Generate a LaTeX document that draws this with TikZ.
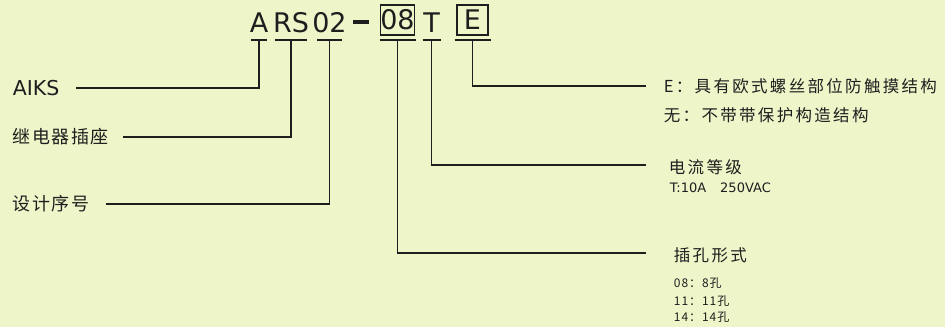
\documentclass[tikz,border=0pt]{standalone}
\usepackage{fontspec}
\setmainfont{DejaVu Sans}
\newfontfamily\cjk[LetterSpace=8]{Noto Sans CJK SC}
\newfontfamily\cjkwide[LetterSpace=14]{Noto Sans CJK SC}
\definecolor{paper}{HTML}{EEF5C9}
\definecolor{ink}{HTML}{1E1E1E}

\begin{document}
\begin{tikzpicture}[x=1pt,y=-1pt,line width=1.8pt,draw=ink,
        every node/.style={inner sep=0pt,text=ink},
        code/.style={anchor=base,font=\fontsize{27}{27}\selectfont},
        codebox/.style={draw,line width=1.4pt,minimum width=31pt,minimum height=30pt,
            font=\fontsize{27}{27}\selectfont},
        lab/.style={anchor=west,font=\cjk\fontsize{18}{18}\selectfont},
        rlab/.style={anchor=west,font=\cjkwide\fontsize{16.5}{16.5}\selectfont},
        note/.style={anchor=west,font=\cjk\fontsize{12}{12}\selectfont}]
    \useasboundingbox[fill=paper] (0,0) rectangle (945,327);
    % model code
    \node[code] (cA) at (259,32) {A};
    \node[code] (cRS) at (291,32) {RS};
    \node[code] (c02) at (329.5,32) {02};
    \node[code] (cDash) at (361,32) {\rule[8.5pt]{16pt}{3.2pt}};
    \node[codebox] (c08) at (397.5,20) {08};
    \node[code] (cT) at (431.5,32) {T};
    \node[codebox] (cE) at (472.5,20) {E};
    \coordinate (bar) at (0,40);
    \foreach \n/\w in {cA/8,cRS/16,c02/12.5,c08/18,cT/9,cE/18}
        \draw ([xshift=-\w pt]\n |- bar) -- ([xshift=\w pt]\n |- bar);
    % labels, left
    \node[anchor=west,font=\fontsize{20.5}{20.5}\selectfont] (lAIKS) at (12,88) {AIKS};
    \node[lab] (lRelay) at (12,137) {继电器插座};
    \node[lab] (lSerial) at (12,204) {设计序号};
    % labels, right
    \node[rlab] (lEuro) at (663,86) {E：具有欧式螺丝部位防触摸结构};
    \node[rlab] (lNone) at (663,115) {无：不带带保护构造结构};
    \node[rlab] (lCurrent) at (668,167) {电流等级};
    \node[anchor=west,font=\fontsize{13}{13}\selectfont] (lRating) at (669,188) {T:10A\hspace{14pt}250VAC};
    \node[rlab] (lHole) at (673,255) {插孔形式};
    \node[note] (lH08) at (673,283) {08：8孔};
    \node[note] (lH11) at (673,301) {11：11孔};
    \node[note] (lH14) at (673,317) {14：14孔};
    % leader ends
    \coordinate (eAIKS) at (76,88);
    \coordinate (eRelay) at (123,137);
    \coordinate (eSerial) at (106,204);
    \coordinate (eEuro) at (646,86);
    \coordinate (eCurrent) at (646,165);
    \coordinate (eHole) at (646,253);
    \draw (cA |- bar) |- (eAIKS);
    \draw (cRS |- bar) |- (eRelay);
    \draw (c02 |- bar) |- (eSerial);
    \draw (c08 |- bar) |- (eHole);
    \draw (cT |- bar) |- (eCurrent);
    \draw (cE |- bar) |- (eEuro);
\end{tikzpicture}
\end{document}
